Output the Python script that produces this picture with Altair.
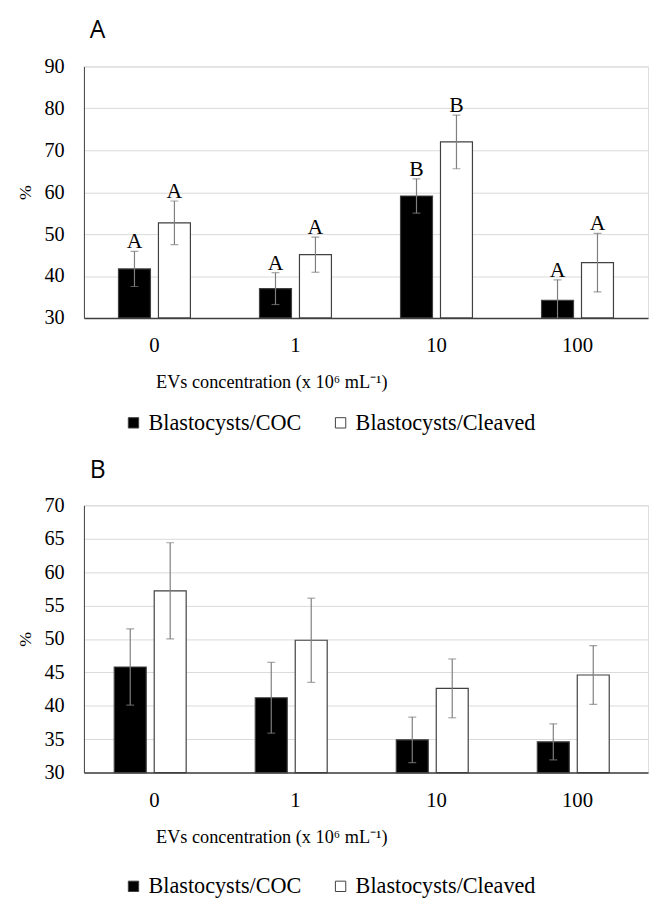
import altair as alt
import pandas as pd

cats = ["0", "1", "10", "100"]
series = ["Blastocysts/COC", "Blastocysts/Cleaved"]

A_coc = [41.7, 37.0, 59.1, 34.2]
A_coc_err = [4.2, 3.8, 4.1, 4.9]
A_clv = [52.7, 45.1, 72.0, 43.2]
A_clv_err = [5.2, 4.2, 6.4, 7.0]
A_coc_letters = ["A", "A", "B", "A"]
A_clv_letters = ["A", "A", "B", "A"]

B_coc = [45.8, 41.2, 34.9, 34.6]
B_coc_err = [5.7, 5.3, 3.4, 2.7]
B_clv = [57.2, 49.8, 42.6, 44.6]
B_clv_err = [7.2, 6.3, 4.4, 4.4]

A_ticks = [30, 40, 50, 60, 70, 80, 90]
B_ticks = [30, 35, 40, 45, 50, 55, 60, 65, 70]

SERIF = "Liberation Serif"
XTITLE = "EVs concentration (x 10\u2076 mL\u207b\u00b9)"
W = 572


def make_df(coc, coc_err, clv, clv_err, coc_let=None, clv_let=None):
    rows = []
    for i, c in enumerate(cats):
        rows.append({"cat": c, "series": series[0], "v": coc[i],
                     "lo": coc[i] - coc_err[i], "hi": coc[i] + coc_err[i],
                     "letter": coc_let[i] if coc_let else ""})
        rows.append({"cat": c, "series": series[1], "v": clv[i],
                     "lo": clv[i] - clv_err[i], "hi": clv[i] + clv_err[i],
                     "letter": clv_let[i] if clv_let else ""})
    return pd.DataFrame(rows)


def panel(df, label, ymin, ymax, ticks, height, xpad, offpad, legend_y, letters, toff):
    xscale = alt.Scale(paddingInner=xpad, paddingOuter=xpad / 2)
    xaxis = alt.Axis(labelAngle=0, ticks=False, domainColor="#404040", domainWidth=1.6,
                     labelFont=SERIF, labelFontSize=21, labelColor="black", labelPadding=17,
                     titleFont=SERIF, titleFontSize=18.5, titleFontWeight="normal",
                     titleColor="black", titlePadding=18, titleX=190, titleAlign="center",
                     titleAnchor="start")
    x = alt.X("cat:N", sort=cats, title=XTITLE, scale=xscale, axis=xaxis)
    xo = alt.XOffset("series:N", sort=series, scale=alt.Scale(paddingInner=offpad, paddingOuter=0))
    yscale = alt.Scale(domain=[ymin, ymax], nice=False, zero=False)
    yaxis = alt.Axis(values=ticks, ticks=False, grid=True, gridColor="#d9d9d9",
                     domainColor="#404040", labelFont=SERIF, labelFontSize=20.5,
                     labelColor="black", labelPadding=20, titleFont=SERIF,
                     titleFontSize=18, titleFontWeight="normal", titleColor="black",
                     titlePadding=10)

    def Y(field):
        return alt.Y(field, scale=yscale, title="%", axis=yaxis)

    color = alt.Color("series:N", sort=series,
                      scale=alt.Scale(domain=series, range=["black", "white"]),
                      legend=alt.Legend(title=None, orient="none", direction="horizontal",
                                        legendX=39, legendY=legend_y, symbolType="square",
                                        symbolSize=110, symbolStrokeColor="#404040",
                                        symbolStrokeWidth=1, labelFont=SERIF, labelFontSize=22.5,
                                        labelColor="black", columnPadding=28, labelOffset=4,
                                        labelLimit=400, symbolOpacity=1))
    base = alt.Chart(df)
    bars = base.mark_bar(stroke="#404040", strokeWidth=1.2).encode(
        x=x, xOffset=xo, y=Y("v:Q"), y2=alt.datum(ymin), color=color)
    rule = base.mark_rule(color="#7f7f7f", strokeWidth=1.2, clip=True).encode(
        x=x, xOffset=xo, y=Y("lo:Q"), y2="hi:Q")
    cap_hi = base.mark_tick(color="#7f7f7f", thickness=1.2, size=8, clip=True).encode(
        x=x, xOffset=xo, y=Y("hi:Q"))
    cap_lo = base.mark_tick(color="#7f7f7f", thickness=1.2, size=8, clip=True).encode(
        x=x, xOffset=xo, y=Y("lo:Q"))
    layers = [bars, rule, cap_hi, cap_lo]
    if letters:
        txt = base.mark_text(font=SERIF, fontSize=22, baseline="alphabetic", dy=-3,
                             color="black").encode(
            x=x, xOffset=xo, y=Y("hi:Q"), text="letter:N")
        layers.append(txt)
    return alt.layer(*layers).properties(
        width=W, height=height,
        title=alt.TitleParams(label, anchor="start", frame="group", font="Open Sans",
                              fontSize=25, fontWeight="normal", color="black", offset=toff,
                              dx=6))


dfA = make_df(A_coc, A_coc_err, A_clv, A_clv_err, A_coc_letters, A_clv_letters)
dfB = make_df(B_coc, B_coc_err, B_clv, B_clv_err)

pA = panel(dfA, "A", 30, 90, A_ticks, 255, 0.49, 0.2, 350, True, 14)
pB = panel(dfB, "B", 30, 70, B_ticks, 271, 0.43, 0.0, 375, False, 13)

chart = alt.vconcat(pA, pB, spacing=22).resolve_scale(color="independent").resolve_legend(
    color="independent").properties(
    padding={"left": 8, "top": 3, "right": 0, "bottom": 0}
).configure_view(strokeWidth=0).configure(background="white")

chart.save("out.html", embed_options={"renderer": "svg", "actions": False})
